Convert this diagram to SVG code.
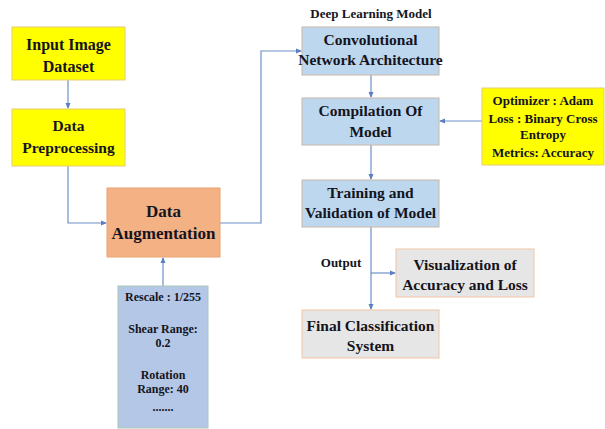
<svg xmlns="http://www.w3.org/2000/svg" width="605" height="429" viewBox="0 0 605 429" font-family="Liberation Serif, serif" font-weight="bold">
<defs>
<style>
text{fill:#141420;text-anchor:middle}
.t{font-size:15.5px}
.s{font-size:13px}
.r{font-size:12px}
.yel{fill:#FFFF00;stroke:#E8CC70;stroke-width:1}
.blu{fill:#BDD7EE;stroke:#C8B8A8;stroke-width:1}
.gry{fill:#E7E6E6;stroke:#F0C4A4;stroke-width:1}
.org{fill:#F4B183;stroke:#E8A474;stroke-width:1}
.rsc{fill:#B4C7E7;stroke:#A8C8B4;stroke-width:1}
.c{fill:none;stroke:#6F8FC8;stroke-width:1.2}
</style>
<marker id="a" viewBox="0 0 6 6" refX="5" refY="3" markerWidth="5" markerHeight="5" orient="auto">
<path d="M0,0.5 L6,3 L0,5.5 z" fill="#5B7FC0"/>
</marker>
</defs>
<rect width="605" height="429" fill="#fff"/>
<g id="connectors">
<path class="c" d="M68,80 V108" marker-end="url(#a)"/>
<path class="c" d="M68,166 V223 H106" marker-end="url(#a)"/>
<path class="c" d="M220,223 H261 V51 H301" marker-end="url(#a)"/>
<path class="c" d="M163,286 V258" marker-end="url(#a)"/>
<path class="c" d="M371,75 V97" marker-end="url(#a)"/>
<path class="c" d="M482,121 H440" marker-end="url(#a)"/>
<path class="c" d="M371,145 V179" marker-end="url(#a)"/>
<path class="c" d="M371,227 V309" marker-end="url(#a)"/>
<path class="c" d="M371,273 H395" marker-end="url(#a)"/>
</g>
<g id="input">
<rect class="yel" x="12" y="27" width="113" height="53"/>
<text x="68.5" y="50" font-size="16">Input Image</text>
<text x="68.5" y="72" font-size="16">Dataset</text>
</g>
<g id="preprocessing">
<rect class="yel" x="12" y="109" width="113" height="57"/>
<text class="t" x="68.5" y="131">Data</text>
<text class="t" x="68.5" y="153">Preprocessing</text>
</g>
<g id="augmentation">
<rect class="org" x="107" y="188" width="113" height="69"/>
<text x="163.5" y="217" style="font-size:17px">Data</text>
<text x="163.5" y="239" style="font-size:17px">Augmentation</text>
</g>
<g id="params">
<rect class="rsc" x="118" y="286" width="90" height="142"/>
<text class="r" x="163" y="301">Rescale : 1/255</text>
<text class="r" x="163" y="333">Shear Range:</text>
<text class="r" x="163" y="347">0.2</text>
<text class="r" x="163" y="379">Rotation</text>
<text class="r" x="163" y="393">Range: 40</text>
<text class="r" x="163" y="411">.......</text>
</g>
<text class="s" x="371" y="18">Deep Learning Model</text>
<g id="conv">
<rect class="blu" x="302" y="27" width="137" height="48"/>
<text class="t" x="370.5" y="45">Convolutional</text>
<text class="t" x="370.5" y="65">Network Architecture</text>
</g>
<g id="compile">
<rect class="blu" x="302" y="98" width="137" height="47"/>
<text class="t" x="370.5" y="116">Compilation Of</text>
<text class="t" x="370.5" y="137">Model</text>
</g>
<g id="optimizer">
<rect class="yel" x="482" y="88" width="122" height="77"/>
<text class="s" x="543" y="105">Optimizer : Adam</text>
<text class="s" x="543" y="123">Loss : Binary Cross</text>
<text class="s" x="543" y="139">Entropy</text>
<text class="s" x="543" y="157">Metrics: Accuracy</text>
</g>
<g id="training">
<rect class="blu" x="302" y="180" width="137" height="47"/>
<text class="t" x="370.5" y="198">Training and</text>
<text class="t" x="370.5" y="218">Validation of Model</text>
</g>
<text class="s" x="341" y="267">Output</text>
<g id="visualization">
<rect class="gry" x="396" y="249" width="138" height="48"/>
<text class="t" x="465" y="270">Visualization of</text>
<text class="t" x="465" y="290">Accuracy and Loss</text>
</g>
<g id="final">
<rect class="gry" x="302" y="310" width="137" height="48"/>
<text class="t" x="370.5" y="331">Final Classification</text>
<text class="t" x="370.5" y="351">System</text>
</g>
</svg>
